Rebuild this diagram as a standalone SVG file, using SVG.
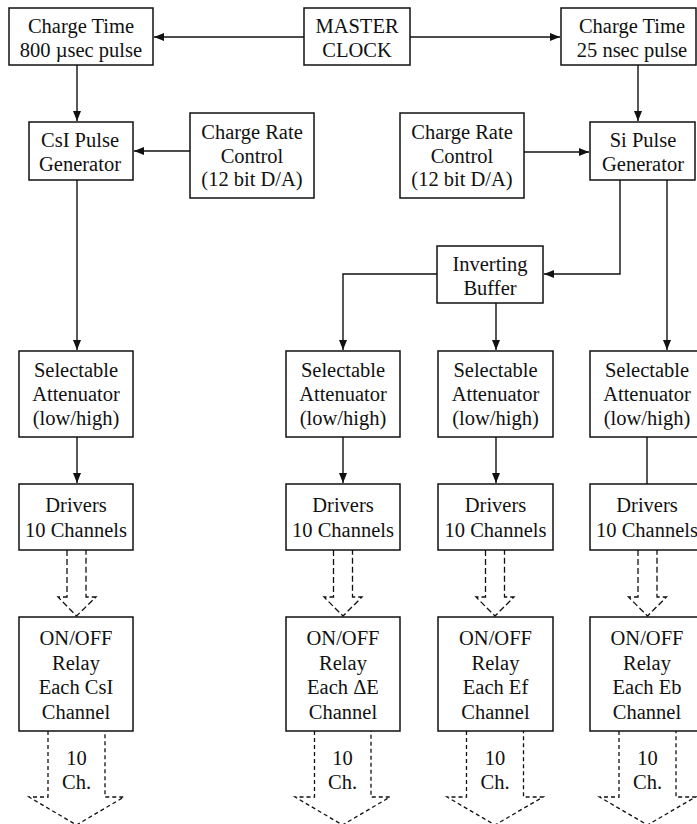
<svg xmlns="http://www.w3.org/2000/svg" width="697" height="824" viewBox="0 0 697 824">
<style>
.box{fill:#fff;stroke:#111;stroke-width:1.5}
.t{font-family:"Liberation Serif","Times New Roman",serif;font-size:20.5px;fill:#111;text-anchor:middle}
.ln{fill:none;stroke:#111;stroke-width:1.4}
.d1{fill:none;stroke:#111;stroke-width:1.3;stroke-dasharray:6 3}
.d2{fill:none;stroke:#111;stroke-width:1.3;stroke-dasharray:4 3}
</style>
<defs>
<marker id="ah" markerUnits="userSpaceOnUse" markerWidth="11" markerHeight="9" refX="10" refY="4" orient="auto">
<path d="M0,0 L10,4 L0,8 z" fill="#111"/>
</marker>
</defs>
<rect width="697" height="824" fill="#fff"/>
<g id="connectors">
<line class="ln" x1="304" y1="37" x2="154" y2="37" marker-end="url(#ah)"/>
<line class="ln" x1="410" y1="37" x2="560" y2="37" marker-end="url(#ah)"/>
<line class="ln" x1="77" y1="65" x2="77" y2="121" marker-end="url(#ah)"/>
<line class="ln" x1="190" y1="151" x2="134" y2="151" marker-end="url(#ah)"/>
<line class="ln" x1="638" y1="65" x2="638" y2="121" marker-end="url(#ah)"/>
<line class="ln" x1="524" y1="152" x2="589" y2="152" marker-end="url(#ah)"/>
<polyline class="ln" points="620,180 620,274 544,274" marker-end="url(#ah)"/>
<polyline class="ln" points="437,274 343,274 343,350" marker-end="url(#ah)"/>
<line class="ln" x1="496" y1="303" x2="496" y2="350" marker-end="url(#ah)"/>
<line class="ln" x1="667" y1="180" x2="667" y2="350" marker-end="url(#ah)"/>
<line class="ln" x1="77" y1="180" x2="77" y2="350" marker-end="url(#ah)"/>
<line class="ln" x1="77" y1="437" x2="77" y2="483" marker-end="url(#ah)"/>
<line class="ln" x1="343" y1="437" x2="343" y2="483" marker-end="url(#ah)"/>
<line class="ln" x1="496" y1="437" x2="496" y2="483" marker-end="url(#ah)"/>
<line class="ln" x1="647" y1="437" x2="647" y2="484"/>
<path class="d1" d="M67,550 V597 H58 L76.5,616 L96,597 H86 V550"/>
<path class="d1" d="M333.5,550 V597 H324 L343,616 L362,597 H352.5 V550"/>
<path class="d1" d="M485.5,550 V597 H476 L495,616 L514,597 H504.5 V550"/>
<path class="d1" d="M638,550 V597 H628.5 L647.5,616 L666.5,597 H657 V550"/>
<path class="d2" d="M48,731 V797 H29 L76.5,825 L124,797 H105 V731"/>
<path class="d2" d="M314.5,731 V797 H295 L342.5,825 L390,797 H371 V731"/>
<path class="d2" d="M466.5,731 V797 H447 L495,825 L543,797 H523.5 V731"/>
<path class="d2" d="M619,731 V797 H599.5 L647.5,825 L695.5,797 H676 V731"/>
</g>
<g id="master"><rect class="box" x="304" y="8" width="106" height="57"/><text class="t" x="357" y="32.5">MASTER</text><text class="t" x="357" y="57">CLOCK</text></g>
<g id="ct-left"><rect class="box" x="9" y="8" width="144" height="57"/><text class="t" x="81" y="32.5">Charge Time</text><text class="t" x="81" y="57">800 µsec pulse</text></g>
<g id="ct-right"><rect class="box" x="561" y="8" width="135" height="57"/><text class="t" x="632" y="32.5">Charge Time</text><text class="t" x="632" y="57">25 nsec pulse</text></g>
<g id="csi-pulse"><rect class="box" x="29" y="122" width="104" height="58"/><text class="t" x="80" y="146.5">CsI Pulse</text><text class="t" x="80" y="171">Generator</text></g>
<g id="crc-left"><rect class="box" x="190" y="113" width="124" height="85"/><text class="t" x="252" y="139">Charge Rate</text><text class="t" x="252" y="162.5">Control</text><text class="t" x="252" y="186">(12 bit D/A)</text></g>
<g id="crc-right"><rect class="box" x="400" y="113" width="124" height="85"/><text class="t" x="462" y="139">Charge Rate</text><text class="t" x="462" y="162.5">Control</text><text class="t" x="462" y="186">(12 bit D/A)</text></g>
<g id="si-pulse"><rect class="box" x="590" y="122" width="105" height="58"/><text class="t" x="643" y="146.5">Si Pulse</text><text class="t" x="643" y="171">Generator</text></g>
<g id="inv-buffer"><rect class="box" x="437" y="246" width="106" height="57"/><text class="t" x="490" y="270.5">Inverting</text><text class="t" x="490" y="295">Buffer</text></g>
<g id="sel-a"><rect class="box" x="19" y="351" width="114" height="86"/><text class="t" x="76" y="377">Selectable</text><text class="t" x="76" y="401">Attenuator</text><text class="t" x="76" y="425">(low/high)</text></g>
<g id="sel-b"><rect class="box" x="286" y="351" width="114" height="86"/><text class="t" x="343" y="377">Selectable</text><text class="t" x="343" y="401">Attenuator</text><text class="t" x="343" y="425">(low/high)</text></g>
<g id="sel-c"><rect class="box" x="438" y="351" width="115" height="86"/><text class="t" x="495.5" y="377">Selectable</text><text class="t" x="495.5" y="401">Attenuator</text><text class="t" x="495.5" y="425">(low/high)</text></g>
<g id="sel-d"><rect class="box" x="590" y="351" width="114" height="86"/><text class="t" x="647" y="377">Selectable</text><text class="t" x="647" y="401">Attenuator</text><text class="t" x="647" y="425">(low/high)</text></g>
<g id="drv-a"><rect class="box" x="19" y="484" width="114" height="66"/><text class="t" x="76" y="512">Drivers</text><text class="t" x="76" y="536.5">10 Channels</text></g>
<g id="drv-b"><rect class="box" x="286" y="484" width="114" height="66"/><text class="t" x="343" y="512">Drivers</text><text class="t" x="343" y="536.5">10 Channels</text></g>
<g id="drv-c"><rect class="box" x="438" y="484" width="115" height="66"/><text class="t" x="495.5" y="512">Drivers</text><text class="t" x="495.5" y="536.5">10 Channels</text></g>
<g id="drv-d"><rect class="box" x="590" y="484" width="114" height="66"/><text class="t" x="647" y="512">Drivers</text><text class="t" x="647" y="536.5">10 Channels</text></g>
<g id="relay-a"><rect class="box" x="19" y="617" width="114" height="114"/><text class="t" x="76" y="645">ON/OFF</text><text class="t" x="76" y="669.5">Relay</text><text class="t" x="76" y="694">Each CsI</text><text class="t" x="76" y="718.5">Channel</text></g>
<g id="relay-b"><rect class="box" x="286" y="617" width="114" height="114"/><text class="t" x="343" y="645">ON/OFF</text><text class="t" x="343" y="669.5">Relay</text><text class="t" x="343" y="694">Each ΔE</text><text class="t" x="343" y="718.5">Channel</text></g>
<g id="relay-c"><rect class="box" x="438" y="617" width="115" height="114"/><text class="t" x="495.5" y="645">ON/OFF</text><text class="t" x="495.5" y="669.5">Relay</text><text class="t" x="495.5" y="694">Each Ef</text><text class="t" x="495.5" y="718.5">Channel</text></g>
<g id="relay-d"><rect class="box" x="590" y="617" width="114" height="114"/><text class="t" x="647" y="645">ON/OFF</text><text class="t" x="647" y="669.5">Relay</text><text class="t" x="647" y="694">Each Eb</text><text class="t" x="647" y="718.5">Channel</text></g>
<g id="labels">
<text class="t" x="76.5" y="764.5">10</text><text class="t" x="76.5" y="789">Ch.</text>
<text class="t" x="342.5" y="764.5">10</text><text class="t" x="342.5" y="789">Ch.</text>
<text class="t" x="495" y="764.5">10</text><text class="t" x="495" y="789">Ch.</text>
<text class="t" x="647.5" y="764.5">10</text><text class="t" x="647.5" y="789">Ch.</text>
</g>
</svg>
